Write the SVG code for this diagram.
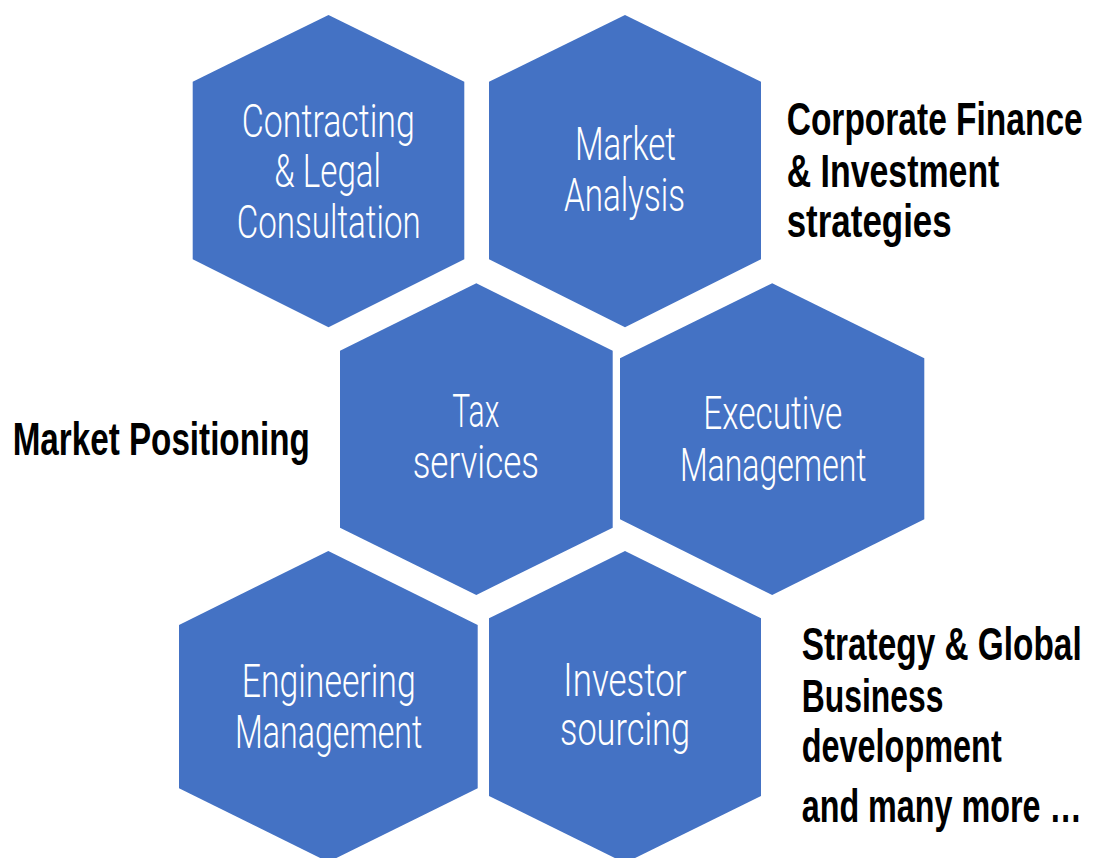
<svg xmlns="http://www.w3.org/2000/svg" width="1093" height="858" viewBox="0 0 1093 858">
<style>
.hex{fill:#4472C4;}
.in{font-family:Roboto,"Liberation Sans",sans-serif;font-weight:300;font-size:46px;fill:#FFFFFF;text-anchor:middle;}
.out{font-family:"Liberation Sans","DejaVu Sans",sans-serif;font-weight:bold;font-size:34px;fill:#000000;}
</style>
<rect width="1093" height="858" fill="#FFFFFF"/>
<g id="connectors"/>
<g id="hex-contracting">
<polygon class="hex" points="328.5,15 464.3,81.7 464.3,259.3 328.5,327.3 192.7,259.3 192.7,81.7"/>
<text class="in" x="328.3" y="136.7" textLength="173" lengthAdjust="spacingAndGlyphs">Contracting</text>
<text class="in" x="327.7" y="186.7" textLength="106.7" lengthAdjust="spacingAndGlyphs">&amp; Legal</text>
<text class="in" x="328.7" y="238.3" textLength="184" lengthAdjust="spacingAndGlyphs">Consultation</text>
</g>
<g id="hex-market-analysis">
<polygon class="hex" points="625,15 761,81.7 761,259.3 625,327.3 489,259.3 489,81.7"/>
<text class="in" x="625.5" y="160" textLength="101" lengthAdjust="spacingAndGlyphs">Market</text>
<text class="in" x="624.5" y="210.7" textLength="121" lengthAdjust="spacingAndGlyphs">Analysis</text>
</g>
<g id="hex-tax">
<polygon class="hex" points="476.3,283.3 612.7,350.7 612.7,527.7 476.3,595 340,527.7 340,350.7"/>
<text class="in" x="475.8" y="427.3" textLength="47" lengthAdjust="spacingAndGlyphs">Tax</text>
<text class="in" x="475.8" y="478.3" textLength="126.3" lengthAdjust="spacingAndGlyphs">services</text>
</g>
<g id="hex-executive">
<polygon class="hex" points="772.2,283.3 924.3,358.3 924.3,519.3 772.2,595 620,519.3 620,358.3"/>
<text class="in" x="772.8" y="429.3" textLength="139" lengthAdjust="spacingAndGlyphs">Executive</text>
<text class="in" x="773.3" y="480.7" textLength="186.7" lengthAdjust="spacingAndGlyphs">Management</text>
</g>
<g id="hex-engineering">
<polygon class="hex" points="328.3,551 477.7,625 477.7,788.3 328.3,862 179,788.3 179,625"/>
<text class="in" x="328.7" y="697.3" textLength="174" lengthAdjust="spacingAndGlyphs">Engineering</text>
<text class="in" x="328.7" y="748.3" textLength="187.3" lengthAdjust="spacingAndGlyphs">Management</text>
</g>
<g id="hex-investor">
<polygon class="hex" points="625,551 761,618.3 761,796 625,863 489,796 489,618.3"/>
<text class="in" x="625" y="696" textLength="123.3" lengthAdjust="spacingAndGlyphs">Investor</text>
<text class="in" x="625" y="745" textLength="130" lengthAdjust="spacingAndGlyphs">sourcing</text>
</g>
<g id="label-market-positioning">
<g transform="translate(12.7,455) scale(1,1.36)"><text class="out" x="0" y="0" textLength="297" lengthAdjust="spacingAndGlyphs">Market Positioning</text></g>
</g>
<g id="label-corporate-finance">
<g transform="translate(786.7,135) scale(1,1.36)"><text class="out" x="0" y="0" textLength="296" lengthAdjust="spacingAndGlyphs">Corporate Finance</text></g>
<g transform="translate(786.7,186.7) scale(1,1.36)"><text class="out" x="0" y="0" textLength="212.7" lengthAdjust="spacingAndGlyphs">&amp; Investment</text></g>
<g transform="translate(786.7,236.7) scale(1,1.36)"><text class="out" x="0" y="0" textLength="165" lengthAdjust="spacingAndGlyphs">strategies</text></g>
</g>
<g id="label-strategy">
<g transform="translate(801.7,660) scale(1,1.36)"><text class="out" x="0" y="0" textLength="280" lengthAdjust="spacingAndGlyphs">Strategy &amp; Global</text></g>
<g transform="translate(801.7,711.7) scale(1,1.36)"><text class="out" x="0" y="0" textLength="141.7" lengthAdjust="spacingAndGlyphs">Business</text></g>
<g transform="translate(801.7,761.7) scale(1,1.36)"><text class="out" x="0" y="0" textLength="200" lengthAdjust="spacingAndGlyphs">development</text></g>
<g transform="translate(801.7,821.7) scale(1,1.445)"><text class="out" x="0" y="0" style="font-size:32px" textLength="280" lengthAdjust="spacingAndGlyphs">and many more …</text></g>
</g>
</svg>
